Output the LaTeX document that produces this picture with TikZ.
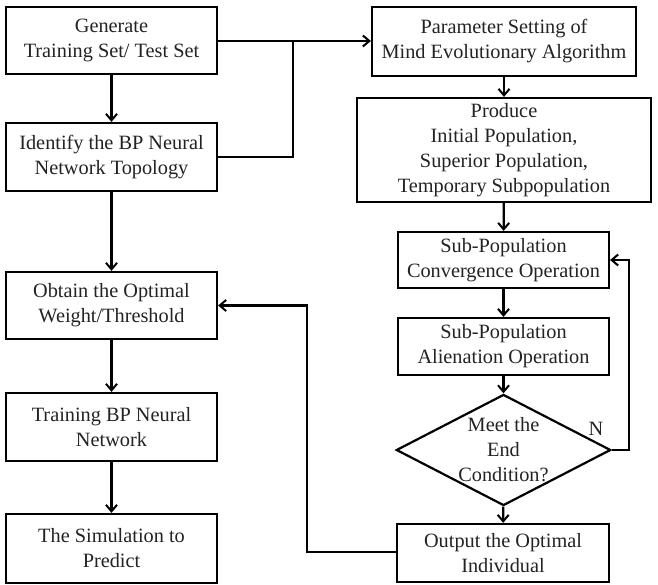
\documentclass[tikz,border=0pt]{standalone}
\usepackage{fontspec}
\setmainfont{Liberation Serif}
\usetikzlibrary{arrows.meta,shapes.geometric}
\definecolor{txt}{RGB}{35,35,35}
\tikzset{
  box/.style={draw=black, line width=2.2pt, fill=white, inner sep=0pt,
    align=center, text=txt, font=\fontsize{20.3}{25}\selectfont},
  decision/.style={diamond, draw=black, line width=2.2pt, inner sep=0pt,
    align=center, text=txt, font=\fontsize{20.3}{25}\selectfont},
  flow/.style={draw=black, line width=2.2pt,
    -{Straight Barb[length=6.5pt,width=11pt,line width=2pt]}},
  link/.style={draw=black, line width=2.2pt},
}
\begin{document}
\begin{tikzpicture}[x=1pt, y=-1pt]
\useasboundingbox (0,0) rectangle (658,585);
\fill[white] (0,0) rectangle (658,585);

% left column: BP network
\node[box, minimum width=211pt, minimum height=67pt] (gen) at (111.5,40.5)
  {Generate\\Training Set/ Test Set};
\node[box, minimum width=211pt, minimum height=68pt] (topo) at (111.5,157)
  {Identify the BP Neural\\Network Topology};
\node[box, minimum width=211pt, minimum height=67pt] (opt) at (111.5,305.5)
  {Obtain the Optimal\\Weight/Threshold};
\node[box, minimum width=211pt, minimum height=68pt] (train) at (111.5,427)
  {Training BP Neural\\Network};
\node[box, minimum width=211pt, minimum height=69pt] (sim) at (111.5,548.5)
  {The Simulation to\\Predict};

% right column: mind evolutionary algorithm
\node[box, minimum width=264pt, minimum height=69pt] (param) at (504,41.5)
  {Parameter Setting of\\Mind Evolutionary Algorithm};
\node[box, minimum width=294pt, minimum height=104pt] (prod) at (504,150)
  {Produce\\Initial Population,\\Superior Population,\\Temporary Subpopulation};
\node[box, minimum width=211pt, minimum height=56pt] (conv) at (503.5,260)
  {Sub-Population\\Convergence Operation};
\node[box, minimum width=211pt, minimum height=57pt] (alien) at (503.5,346.5)
  {Sub-Population\\Alienation Operation};
\node[decision, minimum width=205pt, minimum height=106pt, aspect=1.93] (cond) at (503.5,450)
  {Meet the\\End\\Condition?};
\node[box, minimum width=212pt, minimum height=58pt] (out) at (503,553)
  {Output the Optimal\\Individual};
\node[text=txt, font=\fontsize{20.3}{25}\selectfont] (nlab) at (596,429) {N};

% junction points of the routed connectors
\coordinate (join) at (293,41);
\coordinate (loopx) at (629,450);
\coordinate (backx) at (307,552);

% connectors
\draw[flow] (gen) -- (topo);
\draw[flow] (topo) -- (opt);
\draw[flow] (opt) -- (train);
\draw[flow] (train) -- (sim);
\draw[flow] (gen.east |- join) -- (param.west |- join);
\draw[link] (topo.east) -| (join);

\draw[flow] (param) -- (prod);
\draw[flow] (prod) -- (conv);
\draw[flow] (conv) -- (alien);
\draw[flow] (alien) -- (cond);
\draw[flow] (cond) -- (out);
\draw[flow] (cond.east) -- (loopx) |- (conv.east);
\draw[flow] (out.west |- backx) -- (backx) |- (opt.east);
\end{tikzpicture}
\end{document}
